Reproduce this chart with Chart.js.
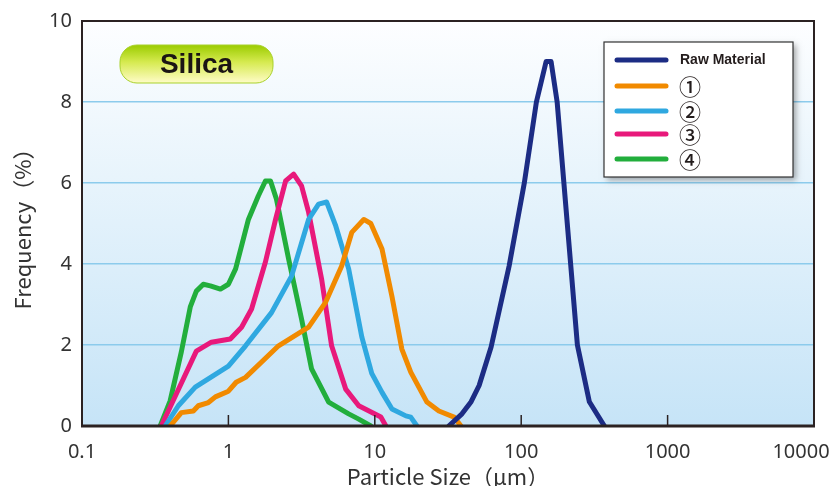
<!DOCTYPE html>
<html>
<head>
<meta charset="utf-8">
<script src="https://cdn.jsdelivr.net/npm/chart.js@4.4.0/dist/chart.umd.min.js"></script>
<style>
  html, body { margin: 0; padding: 0; background: #fff; }
  #wrap { width: 835px; height: 486px; }
</style>
</head>
<body>
<div id="wrap"><canvas id="psd" width="835" height="486"></canvas></div>
<script>
// Particle size distribution of silica, raw material vs. milled samples
const seriesLabels = ['Raw Material', '①', '②', '③', '④'];
const seriesColors = ['#1c2c84', '#f18a00', '#2fa8e0', '#e8197b', '#22ae3c'];

// particle size (um) / frequency (%)
const rawX = [32, 39.4, 45.5, 51.6, 62.3, 82.7, 105, 127, 148, 160, 176, 242, 292, 370];
const rawY = [0, 0.3, 0.6, 1.0, 1.95, 3.95, 6.0, 8.0, 9.0, 9.0, 8.0, 2.0, 0.6, 0];

const s1X = [0.40, 0.477, 0.576, 0.623, 0.73, 0.815, 1.0, 1.13, 1.31, 2.2, 3.53, 4.62, 5.94, 6.96, 8.41, 9.39, 11.2, 13.1, 15.3, 17.6, 22.7, 27.4, 34.8, 38.8];
const s1Y = [0, 0.33, 0.37, 0.5, 0.58, 0.72, 0.86, 1.08, 1.2, 1.98, 2.44, 3.06, 3.95, 4.78, 5.1, 5.0, 4.37, 3.2, 1.9, 1.33, 0.59, 0.37, 0.22, 0];

const s2X = [0.37, 0.455, 0.594, 1.0, 1.31, 1.97, 2.7, 3.53, 4.13, 4.69, 5.41, 6.63, 8.15, 9.53, 11.2, 13.1, 16.3, 17.6, 19.4];
const s2Y = [0, 0.5, 0.96, 1.48, 1.98, 2.8, 3.7, 5.1, 5.48, 5.53, 4.94, 3.88, 2.2, 1.3, 0.83, 0.42, 0.25, 0.22, 0];

const s3X = [0.348, 0.434, 0.604, 0.765, 1.03, 1.23, 1.44, 1.79, 2.1, 2.46, 2.79, 3.16, 3.53, 4.33, 5.07, 6.33, 7.77, 11.0, 11.9];
const s3Y = [0, 0.74, 1.85, 2.07, 2.15, 2.44, 2.89, 4.05, 5.1, 6.05, 6.22, 5.93, 5.28, 3.63, 1.98, 0.91, 0.5, 0.22, 0];

const s4X = [0.342, 0.40, 0.477, 0.549, 0.604, 0.674, 0.753, 0.882, 1.0, 1.12, 1.37, 1.6, 1.79, 1.94, 2.13, 2.58, 3.16, 3.7, 4.84, 6.63, 7.77, 9.39];
const s4Y = [0, 0.62, 1.83, 2.94, 3.33, 3.5, 3.46, 3.38, 3.5, 3.88, 5.1, 5.68, 6.05, 6.05, 5.6, 4.12, 2.64, 1.41, 0.59, 0.3, 0.17, 0];

const xTicks = [0.1, 1, 10, 100, 1000, 10000];
const xTickLabels = ['0.1', '1', '10', '100', '1000', '10000     '];
const yTicks = [0, 2, 4, 6, 8, 10];

const seriesX = [rawX, s1X, s2X, s3X, s4X];
const seriesY = [rawY, s1Y, s2Y, s3Y, s4Y];

const datasets = seriesLabels.map((label, i) => ({
  label: label,
  data: seriesX[i].map((x, j) => ({ x: x, y: seriesY[i][j] })),
  borderColor: seriesColors[i],
  backgroundColor: seriesColors[i],
  borderWidth: 5,
  borderJoinStyle: 'round',
  borderCapStyle: 'round',
  pointRadius: 0,
  tension: 0,
  fill: false
}));

// plot background: white fading into pale blue
const bgPlugin = {
  id: 'plotBg',
  beforeDraw(chart) {
    const { ctx, chartArea: a } = chart;
    const g = ctx.createLinearGradient(0, a.top, 0, a.bottom);
    g.addColorStop(0, '#fdfeff');
    g.addColorStop(1, '#c6e4f7');
    ctx.save();
    ctx.fillStyle = g;
    ctx.fillRect(a.left, a.top, a.right - a.left, a.bottom - a.top);
    ctx.restore();
  }
};

function roundRect(ctx, x, y, w, h, r) {
  ctx.beginPath();
  ctx.moveTo(x + r, y);
  ctx.lineTo(x + w - r, y);
  ctx.arc(x + w - r, y + r, r, -Math.PI / 2, 0);
  ctx.lineTo(x + w, y + h - r);
  ctx.arc(x + w - r, y + h - r, r, 0, Math.PI / 2);
  ctx.lineTo(x + r, y + h);
  ctx.arc(x + r, y + h - r, r, Math.PI / 2, Math.PI);
  ctx.lineTo(x, y + r);
  ctx.arc(x + r, y + r, r, Math.PI, Math.PI * 1.5);
  ctx.closePath();
}

// frame, inner x ticks, "Silica" badge and the boxed legend
const overlayPlugin = {
  id: 'overlay',
  afterDraw(chart) {
    const { ctx, chartArea: a } = chart;
    const xs = chart.scales.x;
    ctx.save();

    // tick marks pointing into the plot
    ctx.strokeStyle = '#2b2222';
    ctx.lineWidth = 1.5;
    xs.ticks.forEach(t => {
      const px = xs.getPixelForValue(t.value);
      if (px <= a.left + 1 || px >= a.right - 1) return;
      ctx.beginPath();
      ctx.moveTo(px, a.bottom);
      ctx.lineTo(px, a.bottom - 11);
      ctx.stroke();
    });

    // frame
    ctx.lineWidth = 2;
    ctx.strokeRect(a.left, a.top, a.right - a.left, a.bottom - a.top);
    ctx.lineWidth = 3;
    ctx.beginPath();
    ctx.moveTo(a.left - 1, a.bottom);
    ctx.lineTo(a.right + 1, a.bottom);
    ctx.stroke();

    // Silica badge
    const bx = 120, by = 45, bw = 153, bh = 38;
    const g = ctx.createLinearGradient(0, by, 0, by + bh);
    g.addColorStop(0, '#9bcc00');
    g.addColorStop(0.45, '#d6ea50');
    g.addColorStop(1, '#fffcc8');
    roundRect(ctx, bx, by, bw, bh, 17);
    ctx.fillStyle = g;
    ctx.fill();
    ctx.strokeStyle = '#a9d12a';
    ctx.lineWidth = 1;
    ctx.stroke();
    ctx.fillStyle = '#1a1414';
    ctx.font = 'bold 28px "Liberation Sans", Arial, sans-serif';
    ctx.textAlign = 'center';
    ctx.textBaseline = 'middle';
    ctx.fillText('Silica', bx + bw / 2, by + bh / 2 + 1);

    // legend box
    const lx = 604, ly = 42, lw = 189, lh = 135;
    ctx.shadowColor = 'rgba(0,0,0,0.35)';
    ctx.shadowBlur = 6;
    ctx.shadowOffsetX = 3;
    ctx.shadowOffsetY = 3;
    ctx.fillStyle = '#ffffff';
    ctx.fillRect(lx, ly, lw, lh);
    ctx.shadowColor = 'transparent';
    ctx.strokeStyle = '#333';
    ctx.lineWidth = 1.2;
    ctx.strokeRect(lx, ly, lw, lh);

    const rowY = [60, 86, 111, 134, 159];
    chart.data.datasets.forEach((ds, i) => {
      const y = rowY[i];
      ctx.strokeStyle = ds.borderColor;
      ctx.lineWidth = 5;
      ctx.lineCap = 'round';
      ctx.beginPath();
      ctx.moveTo(617, y);
      ctx.lineTo(666, y);
      ctx.stroke();
      ctx.fillStyle = '#231c1c';
      ctx.textAlign = 'left';
      ctx.textBaseline = 'middle';
      if (i === 0) {
        ctx.font = 'bold 14px "Liberation Sans", Arial, sans-serif';
        ctx.fillText(ds.label, 680, y);
      } else {
        ctx.font = '500 22px "Noto Sans CJK JP", sans-serif';
        ctx.fillText(ds.label, 679, y + 1);
      }
    });
    ctx.restore();
  }
};

const tickFont = { family: '"Noto Sans", "Noto Sans CJK JP", sans-serif', size: 20 };
const titleFont = { family: '"Noto Sans CJK JP", sans-serif', size: 22 };

new Chart(document.getElementById('psd'), {
  type: 'line',
  data: { datasets: datasets },
  options: {
    responsive: false,
    animation: false,
    devicePixelRatio: 1,
    layout: { padding: { left: 0, top: 21, right: 21, bottom: 0 } },
    plugins: {
      legend: { display: false },
      tooltip: { enabled: false }
    },
    scales: {
      x: {
        type: 'logarithmic',
        min: 0.1,
        max: 10000,
        afterBuildTicks(scale) {
          scale.ticks = xTicks.map(v => ({ value: v }));
        },
        afterFit(scale) {
          scale.height = 60;
          scale.paddingLeft = 0;
          scale.paddingRight = 0;
        },
        ticks: {
          autoSkip: false,
          maxRotation: 0,
          padding: 6,
          color: '#333',
          font: tickFont,
          callback: (v, i) => xTickLabels[i]
        },
        grid: { display: false },
        border: { display: false },
        title: {
          display: true,
          text: 'Particle Size（μm）',
          color: '#333',
          font: titleFont,
          padding: { top: 0, bottom: -4 }
        }
      },
      y: {
        min: 0,
        max: 10,
        afterBuildTicks(scale) {
          scale.ticks = yTicks.map(v => ({ value: v }));
        },
        afterFit(scale) {
          scale.width = 82;
          scale.paddingTop = 0;
          scale.paddingBottom = 0;
        },
        ticks: {
          padding: 10,
          color: '#333',
          font: tickFont
        },
        grid: {
          color: '#8ccbec',
          lineWidth: 1.5,
          drawTicks: false
        },
        border: { display: false },
        title: {
          display: true,
          text: 'Frequency（%）',
          color: '#333',
          font: titleFont,
          padding: { top: 9, bottom: 0 }
        }
      }
    }
  },
  plugins: [bgPlugin, overlayPlugin]
});
</script>
</body>
</html>
